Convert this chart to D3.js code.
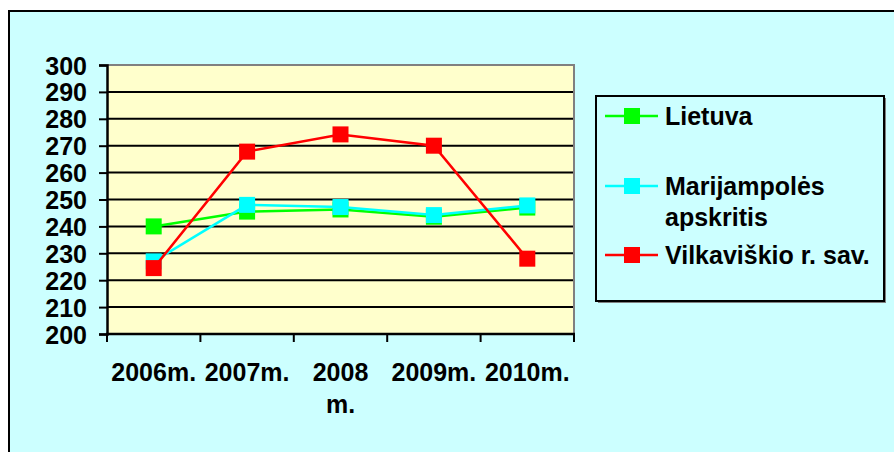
<!DOCTYPE html>
<html>
<head>
<meta charset="utf-8">
<script src="https://cdn.jsdelivr.net/npm/d3@7"></script>
<style>
  html, body { margin: 0; padding: 0; background: #ffffff; }
  svg { display: block; }
  text { font-family: "Liberation Sans", Arial, sans-serif; font-weight: bold; fill: #000; }
</style>
</head>
<body>
<svg id="chart" width="894" height="452"></svg>
<script>
// Categories (years) and series values
const years = ["2006m.", "2007m.", "2008 m.", "2009m.", "2010m."];
const lietuva = [240, 245.5, 246.3, 243.6, 247];
const marijampoles = [227, 248, 247.2, 244.2, 247.8];
const vilkaviskio = [224.5, 267.8, 274.2, 270, 228];
const yTicks = [200, 210, 220, 230, 240, 250, 260, 270, 280, 290, 300];

const seriesNames = ["Lietuva", "Marijampolės apskritis", "Vilkaviškio r. sav."];
const seriesColors = ["#00ff00", "#00ffff", "#ff0000"];
const seriesValues = [lietuva, marijampoles, vilkaviskio];

const fontSize = 25;
const svg = d3.select("#chart");

// Chart area background and frame
svg.append("rect").attr("x", 9).attr("y", 11).attr("width", 900).attr("height", 460)
  .attr("fill", "#ccffff").attr("stroke", "#000").attr("stroke-width", 2);

const plot = { left: 107, top: 65, right: 574, bottom: 334 };

const x = d3.scaleBand().domain(years).range([plot.left, plot.right]);
const y = d3.scaleLinear().domain([200, 300]).range([plot.bottom, plot.top]);

// Plot area
svg.append("rect").attr("x", plot.left).attr("y", plot.top)
  .attr("width", plot.right - plot.left).attr("height", plot.bottom - plot.top)
  .attr("fill", "#ffffcc");

// Horizontal gridlines
svg.append("g").selectAll("line").data(yTicks.filter(d => d > 200 && d < 300)).join("line")
  .attr("x1", plot.left).attr("x2", plot.right)
  .attr("y1", d => y(d)).attr("y2", d => y(d))
  .attr("stroke", "#000").attr("stroke-width", 2);

// Top and right plot border (gray)
svg.append("path")
  .attr("d", `M${plot.left},${plot.top}H${plot.right}V${plot.bottom}`)
  .attr("fill", "none").attr("stroke", "#808080").attr("stroke-width", 2);

// Y axis
const yAxis = svg.append("g").attr("transform", `translate(${plot.left},0)`)
  .call(d3.axisLeft(y).tickValues(yTicks).tickSize(8).tickPadding(12).tickFormat(d3.format("d")));
yAxis.select(".domain").attr("stroke", "#000").attr("stroke-width", 2.5);
yAxis.selectAll(".tick line").attr("stroke", "#000").attr("stroke-width", 2);
yAxis.selectAll(".tick text").attr("font-size", fontSize).attr("dy", "0.36em")
  .style("font-family", '"Liberation Sans", Arial, sans-serif').style("font-weight", "bold");

// X axis: ticks at category boundaries
const boundaries = years.map(d => x(d)).concat([plot.right]);
svg.append("line").attr("x1", plot.left - 1).attr("x2", plot.right + 1)
  .attr("y1", plot.bottom).attr("y2", plot.bottom)
  .attr("stroke", "#000").attr("stroke-width", 2.5);
svg.append("g").selectAll("line").data(boundaries).join("line")
  .attr("x1", d => d).attr("x2", d => d)
  .attr("y1", plot.bottom).attr("y2", plot.bottom + 8)
  .attr("stroke", "#000").attr("stroke-width", 2);

// X labels (wrapped at spaces where needed)
const xLabels = svg.append("g").selectAll("text").data(years).join("text")
  .attr("x", d => x(d) + x.bandwidth() / 2)
  .attr("y", 381)
  .attr("text-anchor", "middle")
  .attr("font-size", fontSize);
xLabels.each(function(d) {
  const parts = d.split(" ");
  const t = d3.select(this);
  parts.forEach((p, i) => {
    t.append("tspan").attr("x", x(d) + x.bandwidth() / 2).attr("dy", i === 0 ? 0 : 32).text(p);
  });
});

// Series lines and markers
const line = d3.line().x((d, i) => x(years[i]) + x.bandwidth() / 2).y(d => y(d));
seriesValues.forEach((vals, si) => {
  const g = svg.append("g");
  g.append("path").datum(vals).attr("d", line)
    .attr("fill", "none").attr("stroke", seriesColors[si]).attr("stroke-width", 2.5);
  g.selectAll("rect").data(vals).join("rect")
    .attr("x", (d, i) => x(years[i]) + x.bandwidth() / 2 - 8)
    .attr("y", d => y(d) - 8)
    .attr("width", 16).attr("height", 16)
    .attr("fill", seriesColors[si]);
});

// Legend
const legend = svg.append("g");
legend.append("rect").attr("x", 598).attr("y", 98).attr("width", 288).attr("height", 205)
  .attr("fill", "#808080");
legend.append("rect").attr("x", 596).attr("y", 96).attr("width", 288).attr("height", 205)
  .attr("fill", "#ccffff").attr("stroke", "#000").attr("stroke-width", 2);
const legendRows = [
  { y: 116, lines: ["Lietuva"] },
  { y: 186, lines: ["Marijampolės", "apskritis"] },
  { y: 255, lines: ["Vilkaviškio r. sav."] }
];
legendRows.forEach((row, i) => {
  legend.append("line").attr("x1", 605).attr("x2", 658).attr("y1", row.y).attr("y2", row.y)
    .attr("stroke", seriesColors[i]).attr("stroke-width", 2.5);
  legend.append("rect").attr("x", 624).attr("y", row.y - 8).attr("width", 16).attr("height", 16)
    .attr("fill", seriesColors[i]);
  const t = legend.append("text").attr("x", 665).attr("y", row.y + 9).attr("font-size", fontSize);
  row.lines.forEach((ln, j) => {
    t.append("tspan").attr("x", 665).attr("dy", j === 0 ? 0 : 31).text(ln);
  });
});
</script>
</body>
</html>
